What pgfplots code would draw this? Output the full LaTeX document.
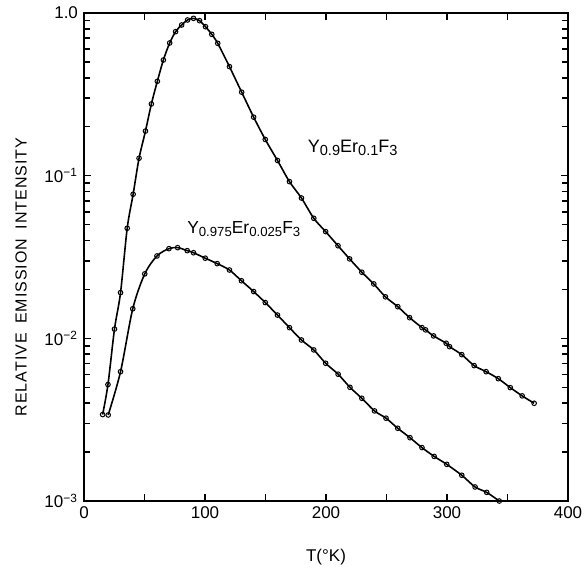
\documentclass[border=0pt]{standalone}
\usepackage{fontspec}
\setmainfont{Liberation Sans}
\newfontfamily\ylfont[LetterSpace=6]{Liberation Sans}
\usepackage{pgfplots}
\pgfplotsset{compat=1.18}
\usetikzlibrary{calc}

\newcommand{\sub}[1]{\raisebox{-0.35ex}{\fontsize{7.3}{8}\selectfont #1}}
\newcommand{\subs}[1]{\raisebox{-0.35ex}{\fontsize{6.6}{7}\selectfont #1}}

\pgfplotstableread{
T I
15.4 0.0034
19.8 0.0052
25.2 0.0114
30.2 0.0191
35.7 0.0475
40.6 0.0769
45.5 0.128
50.8 0.188
55.7 0.276
60.6 0.380
65.6 0.514
70.8 0.654
75.7 0.768
80.7 0.844
85.6 0.906
90.5 0.927
95.5 0.897
100.4 0.824
105.6 0.739
110.5 0.651
120.2 0.468
130.3 0.326
140.2 0.229
149.8 0.167
159.9 0.124
169.8 0.0919
179.7 0.0729
189.9 0.0547
199.7 0.0453
209.9 0.0371
219.5 0.0308
229.6 0.0255
239.5 0.0216
249.1 0.0180
259.3 0.01566
269.1 0.0134
279.3 0.01164
282.3 0.01127
288.9 0.01035
299.3 0.00933
302.1 0.00889
312.2 0.00794
322.4 0.00680
332.3 0.00624
342.4 0.00565
352.3 0.00498
362.1 0.00443
372.0 0.00399
}\hiconc

\pgfplotstableread{
T I
20.0 0.00338
30.2 0.00624
40.3 0.0152
50.2 0.0249
60.3 0.0321
70.2 0.0356
77.4 0.0361
85.3 0.0346
90.5 0.0336
100.2 0.0311
110.1 0.0288
120.2 0.0263
130.1 0.0226
140.2 0.0194
149.8 0.0166
159.9 0.0139
169.8 0.01164
179.7 0.00977
189.9 0.00849
199.7 0.00703
210.0 0.00602
219.8 0.00500
229.6 0.00428
240.1 0.00358
249.6 0.00323
259.3 0.00280
269.4 0.00245
279.3 0.00213
289.4 0.00188
299.8 0.00168
312.2 0.00144
323.2 0.00122
332.8 0.00113
343.2 0.00100
}\loconc

\begin{document}
\fontsize{8.5}{10}\selectfont
\begin{tikzpicture}
\begin{axis}[
  scale only axis,
  width=242pt, height=244pt,
  ymode=log,
  xmin=0, xmax=400, ymin=1e-3, ymax=1,
  axis line style={line width=1.1pt},
  xtick={0,50,...,400},
  xticklabels={0,,100,,200,,300,,400},
  ytick={1e-3,1e-2,1e-1,1},
  yticklabels={10\textsuperscript{−3},10\textsuperscript{−2},10\textsuperscript{−1},1.0},
  minor ytick={},
  tick align=inside,
  major tick length=3.5pt,
  tick style={line width=0.8pt, black},
  xtick pos=both, ytick pos=both,
  xticklabel pos=lower, yticklabel pos=left,
  tick label style={font=\fontsize{8.5}{10}\selectfont},
  xlabel={T(°K)},
  xlabel style={at={(axis description cs:0.5,-0.115)}, anchor=center},
  ylabel={\ylfont\fontsize{8}{9}\selectfont RELATIVE\hspace{0.6em}EMISSION\hspace{0.6em}INTENSITY},
  ylabel style={at={(axis description cs:-0.13,0.459)}, anchor=center},
  clip=true,
]
\addplot[black, line width=0.8pt, smooth, mark=o, mark size=1.15pt,
  mark options={line width=0.5pt, fill=white}] table[x=T, y=I] {\hiconc};
\addplot[black, line width=0.8pt, smooth, mark=o, mark size=1.15pt,
  mark options={line width=0.5pt, fill=white}] table[x=T, y=I] {\loconc};
\node[anchor=west, font=\fontsize{9}{10}\selectfont] at (axis cs:180,0.148) {Y\sub{0.9}Er\sub{0.1}F\sub{3}};
\node[anchor=west, font=\fontsize{8.7}{10}\selectfont, inner sep=0pt] at (axis cs:85,0.047) {Y\subs{0.975}Er\subs{0.025}F\subs{3}};
\end{axis}
\pgfresetboundingbox
\path ($(current axis.south west)+(-42pt,-33pt)$) rectangle ($(current axis.north east)+(9pt,6.5pt)$);
\end{tikzpicture}
\end{document}
